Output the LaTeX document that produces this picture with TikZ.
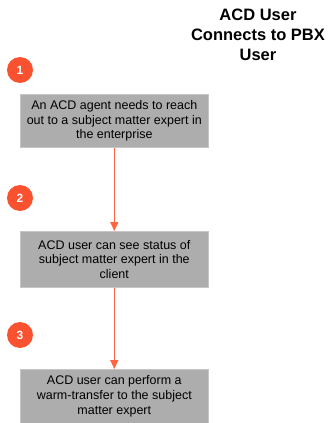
\documentclass[tikz,border=0pt]{standalone}
\usepackage{fontspec}
\setmainfont{Liberation Sans}
\usetikzlibrary{arrows.meta}
\definecolor{boxgray}{HTML}{ADADAD}
\definecolor{boxedge}{HTML}{C6C6C6}
\definecolor{numred}{HTML}{FA5230}
\definecolor{arrowred}{HTML}{FF6540}
\begin{document}
\begin{tikzpicture}[x=1pt,y=-1pt,
  stepbox/.style={draw=boxedge,line width=0.6pt,fill=boxgray,minimum width=188pt,
    inner sep=0pt,text width=180pt,align=flush center,
    font={\fontsize{12.5}{14.7}\selectfont\hyphenpenalty=10000\relax},anchor=north west},
  numdot/.style={circle,fill=numred,minimum size=26pt,inner sep=0pt,
    text=white,font=\fontsize{12}{14}\selectfont\bfseries},
  flow/.style={draw=arrowred,line width=1.2pt,-{Triangle[length=9pt,width=8pt]}}]
\useasboundingbox (0,0) rectangle (327,423);
\node[font=\fontsize{16.5}{20}\selectfont\bfseries,align=center] (title) at (258,35)
  {ACD User\\Connects to PBX\\User};
\node[numdot] (n1) at (20,70) {1};
\node[numdot] (n2) at (20,198) {2};
\node[numdot] (n3) at (20,335) {3};
\node[stepbox,minimum height=53pt] (b1) at (20,94)
  {An ACD agent needs to reach out to a subject matter expert in the enterprise};
\node[stepbox,minimum height=56pt] (b2) at (20,231)
  {ACD user can see status of subject matter expert in the client};
\node[stepbox,minimum height=54pt] (b3) at (20,369)
  {ACD user can perform a warm-transfer to the subject matter expert};
\draw[flow] (b1.south) -- (b2.north);
\draw[flow] (b2.south) -- (b3.north);
\end{tikzpicture}
\end{document}
